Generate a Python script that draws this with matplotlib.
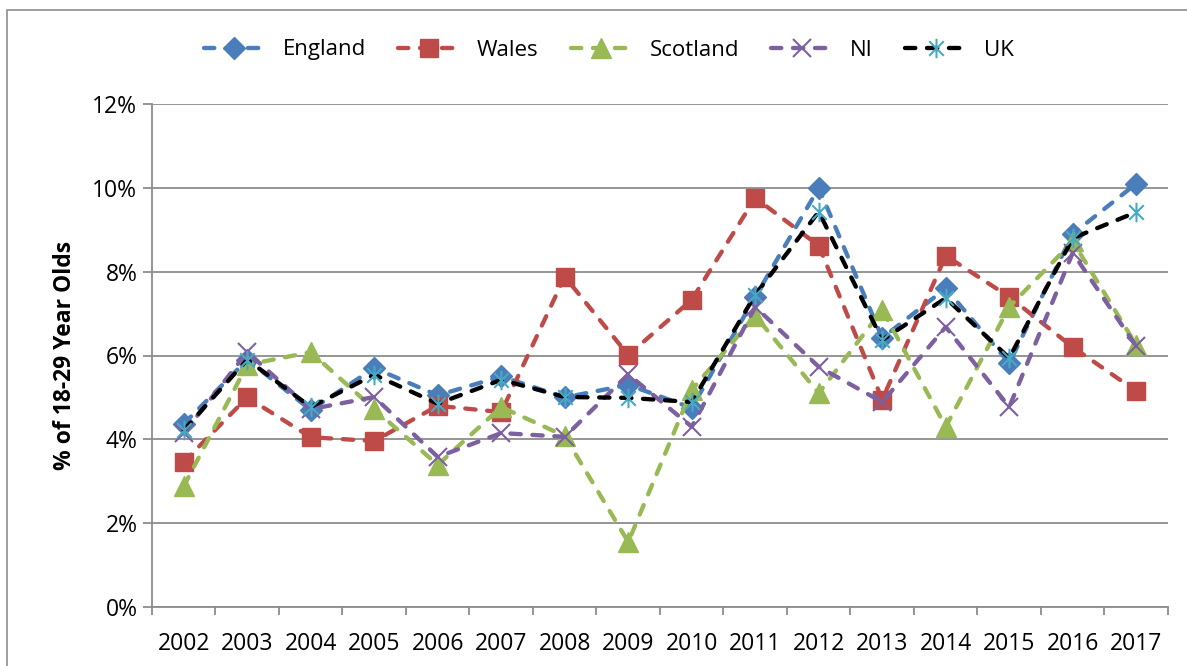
import matplotlib
matplotlib.use("Agg")
import matplotlib.pyplot as plt
from matplotlib.path import Path
from matplotlib.patches import Rectangle

years = [str(y) for y in range(2002, 2018)]
england = [4.37, 5.9, 4.7, 5.7, 5.05, 5.5, 5.0, 5.3, 4.75, 7.4, 10.0, 6.42, 7.6, 5.82, 8.9, 10.1]
wales = [3.46, 5.0, 4.05, 3.96, 4.8, 4.65, 7.88, 6.01, 7.33, 9.76, 8.62, 4.95, 8.38, 7.4, 6.2, 5.15]
scotland = [2.88, 5.78, 6.08, 4.72, 3.39, 4.77, 4.08, 1.55, 5.18, 6.95, 5.1, 7.09, 4.3, 7.16, 8.72, 6.25]
ni = [4.15, 6.08, 4.72, 5.01, 3.58, 4.15, 4.06, 5.55, 4.3, 7.16, 5.73, 4.89, 6.68, 4.77, 8.45, 6.22]
uk = [4.22, 5.9, 4.77, 5.54, 4.85, 5.42, 5.01, 4.99, 4.89, 7.45, 9.43, 6.37, 7.37, 5.94, 8.8, 9.42]

plt.rcParams['font.family'] = ['Open Sans', 'DejaVu Sans']

# asterisk marker like Excel's (vertical + X)
star = Path([(0, -1), (0, 1), (-0.75, -0.75), (0.75, 0.75), (-0.75, 0.75), (0.75, -0.75)],
            [Path.MOVETO, Path.LINETO, Path.MOVETO, Path.LINETO, Path.MOVETO, Path.LINETO])

fig = plt.figure(figsize=(11.87, 6.66), dpi=100)
W, H = 1187, 666
ax = fig.add_axes([152 / W, 1 - 607 / H, (1168 - 152) / W, (607 - 104) / H])

x = list(range(len(years)))
dash = (0, (2.4, 2.7))
lw = 3.1
series = [
    ("England", england, "#4A7EBB", "#4A7EBB", "D", 11, {}),
    ("Wales", wales, "#BE4B48", "#BE4B48", "s", 13.5, {}),
    ("Scotland", scotland, "#98B954", "#98B954", "^", 14, {}),
    ("NI", ni, "#7D60A0", "#7D60A0", "x", 13, {"markeredgewidth": 1.5}),
    ("UK", uk, "black", "#46AAC5", star, 14, {"markeredgewidth": 1.5}),
]
for name, vals, lc, mc, mk, ms, extra in series:
    ax.plot(x, vals, color=lc, linestyle=dash, linewidth=lw, dash_capstyle='round',
            marker=mk, markersize=ms, markerfacecolor=mc, markeredgecolor=mc,
            label=name, **extra)

ax.set_xlim(-0.5, len(years) - 0.5)
ax.set_ylim(0, 12)
ax.set_yticks(range(0, 13, 2))
ax.set_yticklabels([f"{v}%" for v in range(0, 13, 2)])
ax.set_xticks(x)
ax.set_xticklabels(years)
ax.set_xticks([i - 0.5 for i in range(len(years) + 1)], minor=True)
ax.tick_params(axis='x', which='major', length=0, pad=18, labelsize=16.5)
ax.tick_params(axis='x', which='minor', length=6, color='#8c8c8c', width=1.3)
ax.tick_params(axis='y', length=6.5, color='#8c8c8c', width=1.3, pad=4, labelsize=16.5)
ax.grid(axis='y', color='#8c8c8c', linewidth=1.3)
ax.set_axisbelow(True)
for s in ['top', 'right']:
    ax.spines[s].set_visible(False)
for s in ['left', 'bottom']:
    ax.spines[s].set_color('#8c8c8c')
    ax.spines[s].set_linewidth(1.3)

ax.set_ylabel("% of 18-29 Year Olds", fontsize=16.5, fontweight='bold')
ax.yaxis.set_label_coords((77 - 152) / (1168 - 152), 0.5)

leg = fig.legend(loc='center', bbox_to_anchor=(609 / W, 1 - 50 / H), ncol=5, frameon=False,
                 fontsize=16, handlelength=2.75, columnspacing=1.45, handletextpad=0.8)

fig.add_artist(Rectangle((7 / W, -0.1), 2, 1.1 - 10 / H, transform=fig.transFigure,
                         fill=False, edgecolor='#8c8c8c', linewidth=1.2))

fig.savefig("out.png", dpi=100)
